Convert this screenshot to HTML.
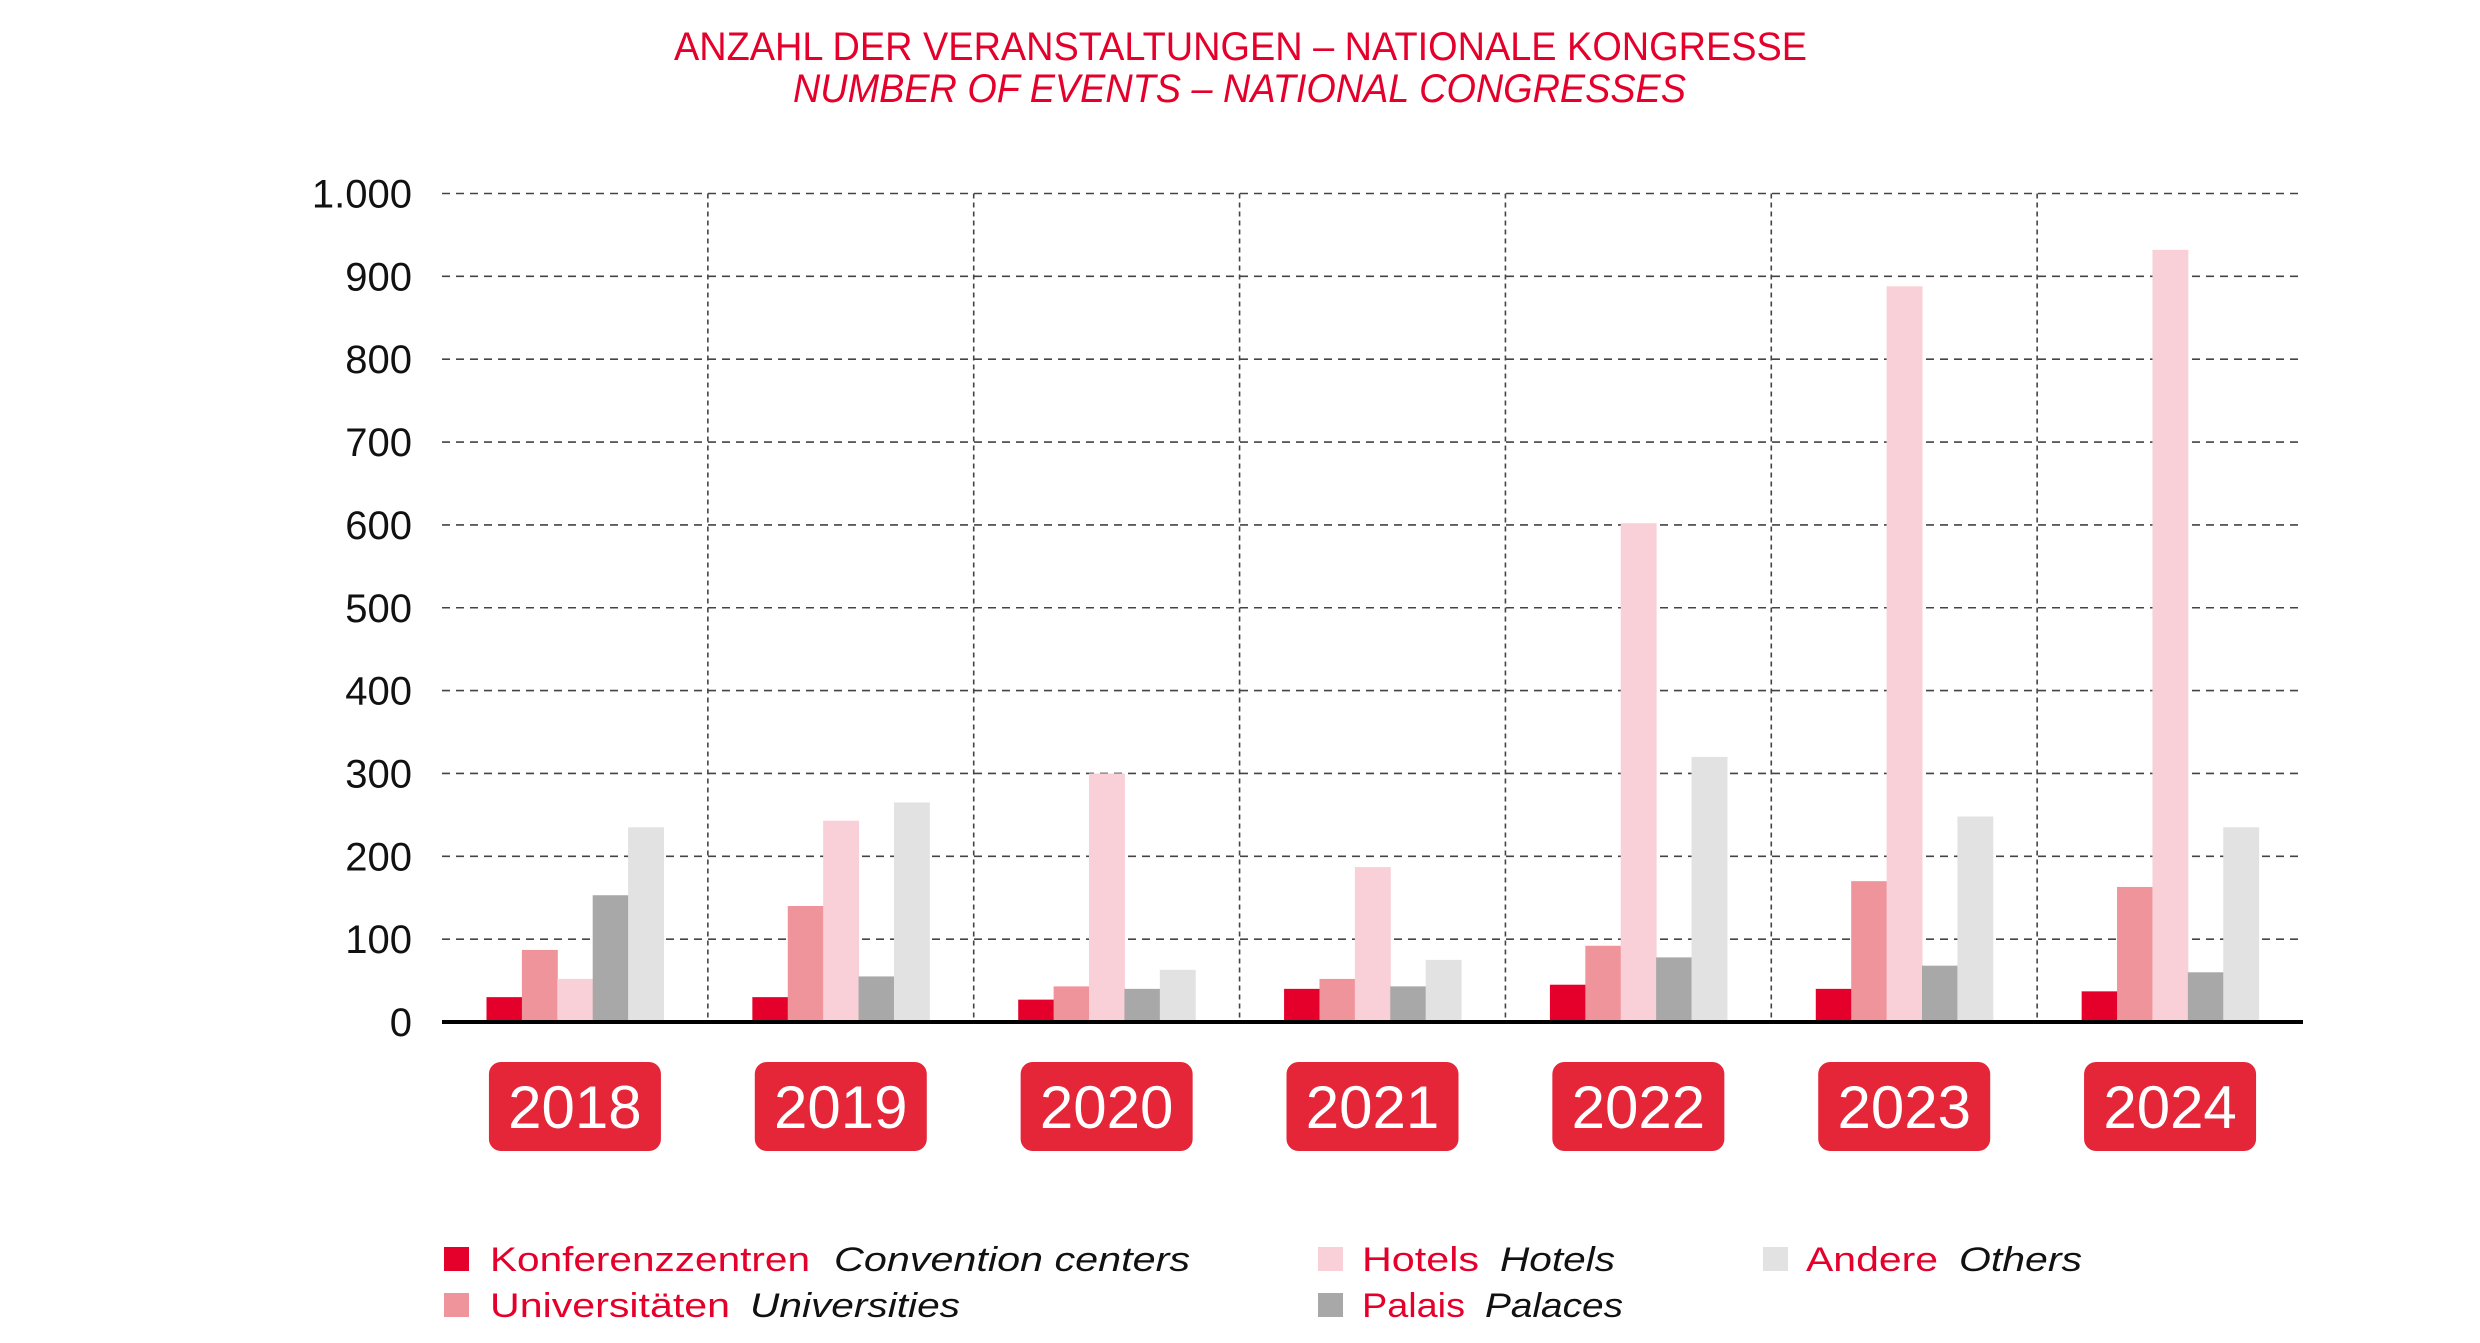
<!DOCTYPE html>
<html><head><meta charset="utf-8"><style>html,body{margin:0;padding:0;background:#fff}svg{display:block}</style></head>
<body>
<svg id="chart" width="2480" height="1343" viewBox="0 0 2480 1343" xmlns="http://www.w3.org/2000/svg" font-family="Liberation Sans, sans-serif">
<text x="674" y="60" font-size="40" fill="#e4002b" textLength="1133" lengthAdjust="spacingAndGlyphs">ANZAHL DER VERANSTALTUNGEN – NATIONALE KONGRESSE</text>
<text x="793" y="102" font-size="40" font-style="italic" fill="#e4002b" textLength="893" lengthAdjust="spacingAndGlyphs">NUMBER OF EVENTS – NATIONAL CONGRESSES</text>
<g id="grid"></g><g id="bars"></g><g id="axis"></g>
<g id="legend">
 <rect x="444" y="1247" width="25" height="24" fill="#e4002b"/>
 <text x="490" y="1271" font-size="34" fill="#e4002b" textLength="320" lengthAdjust="spacingAndGlyphs">Konferenzzentren</text>
 <text x="834" y="1271" font-size="34" font-style="italic" fill="#111" textLength="356" lengthAdjust="spacingAndGlyphs">Convention centers</text>
 <rect x="444" y="1293" width="25" height="24" fill="#f0949b"/>
 <text x="490" y="1317" font-size="34" fill="#e4002b" textLength="240" lengthAdjust="spacingAndGlyphs">Universitäten</text>
 <text x="750" y="1317" font-size="34" font-style="italic" fill="#111" textLength="210" lengthAdjust="spacingAndGlyphs">Universities</text>
 <rect x="1318" y="1247" width="25" height="24" fill="#f9d0d7"/>
 <text x="1362" y="1271" font-size="34" fill="#e4002b" textLength="117" lengthAdjust="spacingAndGlyphs">Hotels</text>
 <text x="1500" y="1271" font-size="34" font-style="italic" fill="#111" textLength="115" lengthAdjust="spacingAndGlyphs">Hotels</text>
 <rect x="1318" y="1293" width="25" height="24" fill="#a8a8a8"/>
 <text x="1362" y="1317" font-size="34" fill="#e4002b" textLength="103" lengthAdjust="spacingAndGlyphs">Palais</text>
 <text x="1485" y="1317" font-size="34" font-style="italic" fill="#111" textLength="138" lengthAdjust="spacingAndGlyphs">Palaces</text>
 <rect x="1763" y="1247" width="25" height="24" fill="#e2e2e2"/>
 <text x="1806" y="1271" font-size="34" fill="#e4002b" textLength="132" lengthAdjust="spacingAndGlyphs">Andere</text>
 <text x="1959" y="1271" font-size="34" font-style="italic" fill="#111" textLength="123" lengthAdjust="spacingAndGlyphs">Others</text>
</g>
</svg>
<script>
const years = ["2018","2019","2020","2021","2022","2023","2024"];
const convention = [30, 30, 27, 40, 45, 40, 37];
const universities = [87, 140, 43, 52, 92, 170, 163];
const hotels = [52, 243, 300, 187, 602, 888, 932];
const palaces = [153, 55, 40, 43, 78, 68, 60];
const others = [235, 265, 63, 75, 320, 248, 235];
const yTicks = [0,100,200,300,400,500,600,700,800,900,1000];
const yTickLabels = ["0","100","200","300","400","500","600","700","800","900","1.000"];
const seriesNames = ["convention","universities","hotels","palaces","others"];

const NS = "http://www.w3.org/2000/svg";
const plotLeft = 442, plotRight = 2303, plotTop = 193.5, plotBase = 1022, yMax = 1000;
const groupW = (plotRight - plotLeft) / years.length;
const barW = 35.4, barOff = 44.5;
const colors = ["#e4002b","#f0949b","#f9d0d7","#a8a8a8","#e2e2e2"];
function yScale(v){ return plotBase - (v / yMax) * (plotBase - plotTop); }
function gx(i){ return plotLeft + i * groupW; }
function mk(tag, attrs, parent){ const e = document.createElementNS(NS, tag); for (const k in attrs) e.setAttribute(k, attrs[k]); parent.appendChild(e); return e; }

const gridG = document.getElementById("grid"), barsG = document.getElementById("bars"), axisG = document.getElementById("axis");
yTicks.forEach((t, i) => {
  if (t > 0) {
    const l = mk("line", {x1: plotLeft, x2: plotRight, y1: yScale(t), y2: yScale(t), stroke: "#444", "stroke-width": 1.6, "stroke-dasharray": "8 6"}, gridG);
    
    
  }
  const tx = mk("text", {x: 412, y: yScale(t) + 14, "font-size": 40, fill: "#111", "text-anchor": "end"}, axisG);
  
  
  tx.textContent = yTickLabels[i];
});
for (let i = 1; i < years.length; i++) {
  const l = mk("line", {x1: gx(i), x2: gx(i), y1: plotTop, y2: plotBase, stroke: "#444", "stroke-width": 1.6, "stroke-dasharray": "5 4"}, gridG);
  
  
}
const series = [convention, universities, hotels, palaces, others];
years.forEach((yr, i) => {
  series.forEach((s, k) => {
    const r = mk("rect", {x: gx(i) + barOff + k * barW, y: yScale(s[i]), width: barW + 0.5, height: plotBase - yScale(s[i]), fill: colors[k]}, barsG);
    
    
  });
  const cx = gx(i) + groupW / 2;
  const b = mk("rect", {x: cx - 86, y: 1062, width: 172, height: 89, rx: 12, fill: "#e52538"}, axisG);
  
  
  const t = mk("text", {x: cx, y: 1128, "font-size": 60, fill: "#fff", "text-anchor": "middle"}, axisG);
  
  
  t.textContent = yr;
});
const bl = mk("line", {x1: plotLeft, x2: plotRight, y1: plotBase, y2: plotBase, stroke: "#000", "stroke-width": 4}, axisG);


</script>
</body></html>
